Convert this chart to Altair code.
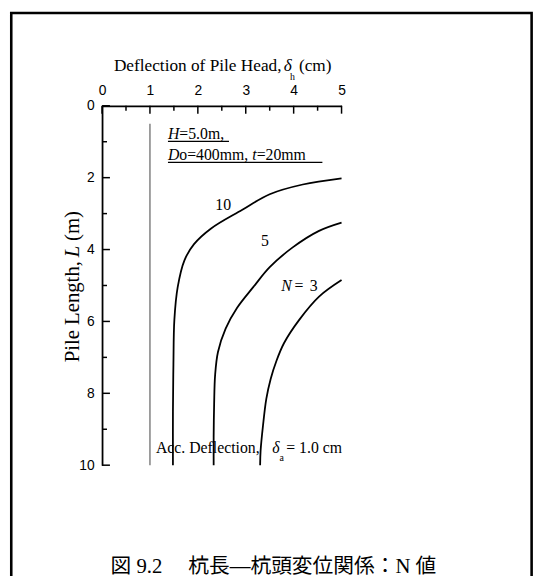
import altair as alt
import pandas as pd

# ---------------- data ----------------
# Pile length L (m) vs pile-head deflection (cm) for N = 10, 5, 3
N10_DEFL = [5.00, 4.19, 3.50, 2.92, 2.27, 1.92, 1.72, 1.58, 1.51, 1.49, 1.48, 1.48]
N10_LEN = [2.02, 2.19, 2.46, 2.90, 3.42, 3.85, 4.30, 5.04, 5.95, 7.20, 8.50, 10.0]
N5_DEFL = [5.00, 4.53, 3.98, 3.50, 3.16, 2.82, 2.58, 2.42, 2.36, 2.34, 2.33, 2.33]
N5_LEN = [3.25, 3.48, 3.94, 4.49, 5.04, 5.62, 6.20, 6.85, 7.50, 8.30, 9.20, 10.0]
N3_DEFL = [5.00, 4.53, 4.12, 3.80, 3.64, 3.52, 3.43, 3.36, 3.31, 3.30]
N3_LEN = [4.85, 5.31, 5.95, 6.60, 7.10, 7.60, 8.15, 8.90, 9.60, 10.0]
N_VALUES = [10, 5, 3]

ACC_DEFL = [1.0]          # allowable deflection line (cm)
ACC_FROM = [0.5]
ACC_TO = [10.0]

X_TICKS = [0, 1, 2, 3, 4, 5]
X_MINOR = [0.5, 1.5, 2.5, 3.5, 4.5]
Y_TICKS = [0, 2, 4, 6, 8, 10]
Y_MINOR = [1, 3, 5, 7, 9]

CAPTION = "図 9.2　 杭長―杭頭変位関係：N 値"

# ---------------- chart ----------------
SERIF = "Liberation Serif"
SANS = "Liberation Sans"
W, H = 242.7, 364.2

xs = alt.Scale(domain=[0, 5], nice=False, zero=False)
ys = alt.Scale(domain=[0, 10], reverse=True, nice=False, zero=False)

rows = []
for n, dx_, ly_ in zip(N_VALUES, [N10_DEFL, N5_DEFL, N3_DEFL], [N10_LEN, N5_LEN, N3_LEN]):
    for i, (a, b) in enumerate(zip(dx_, ly_)):
        rows.append({"N": n, "i": i, "d": a, "L": b})
curve_df = pd.DataFrame(rows)

x_axis = alt.Axis(orient="top", values=X_TICKS, ticks=False, tickSize=0, grid=False,
                  domainColor="black", domainWidth=1.8, labelFont=SANS, labelFontSize=14,
                  labelColor="black", labelPadding=8, labelFlush=False, labelOverlap=False,
                  title=None, format="d")
y_axis = alt.Axis(orient="left", values=Y_TICKS, ticks=False, tickSize=0, grid=False,
                  domainColor="black", domainWidth=1.8, labelFont=SANS, labelFontSize=14,
                  labelColor="black", labelPadding=8, labelFlush=False, labelOverlap=False,
                  title=None, format="d")


def X(field, **kw):
    return alt.X(field, scale=xs, axis=x_axis, **kw)


def Y(field, **kw):
    return alt.Y(field, scale=ys, axis=y_axis, **kw)


curves = alt.Chart(curve_df).mark_line(color="black", strokeWidth=1.8,
                                       interpolate="catmull-rom").encode(
    x=X("d:Q"), y=Y("L:Q"), detail="N:N", order=alt.Order("i:Q"))


def xtick(vals, length):
    return alt.Chart(pd.DataFrame({"d": vals})).mark_rule(color="black", strokeWidth=1.5).encode(
        x=X("d:Q"), y=alt.value(0), y2=alt.value(length))


def ytick(vals, length):
    return alt.Chart(pd.DataFrame({"L": vals})).mark_rule(color="black", strokeWidth=1.5).encode(
        y=Y("L:Q"), x=alt.value(0), x2=alt.value(length))


acc_line = alt.Chart(pd.DataFrame({"d": ACC_DEFL, "L": ACC_FROM, "b": ACC_TO})).mark_rule(
    color="#808080", strokeWidth=1.5).encode(x=X("d:Q"), y=Y("L:Q"), y2="b:Q")


def dtext(t, x, y, size=16, italic=False, align="left", baseline="alphabetic", dx=0):
    kw = dict(font=SERIF, fontSize=size, color="black", align=align, baseline=baseline, dx=dx)
    if italic:
        kw["fontStyle"] = "italic"
    return alt.Chart(pd.DataFrame({"t": [t], "d": [x], "L": [y]})).mark_text(**kw).encode(
        x=X("d:Q"), y=Y("L:Q"), text="t:N")


def ptext(t, px, py, size=16, italic=False, align="left", baseline="alphabetic", angle=0, font=SERIF):
    kw = dict(font=font, fontSize=size, color="black", align=align, baseline=baseline)
    if italic:
        kw["fontStyle"] = "italic"
    if angle:
        kw["angle"] = angle
    return alt.Chart(pd.DataFrame({"t": [t]})).mark_text(**kw).encode(
        x=alt.value(px), y=alt.value(py), text="t:N")


def hline(x1, x2, y):
    return alt.Chart(pd.DataFrame({"d": [x1], "b": [x2], "L": [y]})).mark_rule(
        color="black", strokeWidth=1.2).encode(x=X("d:Q"), x2="b:Q", y=Y("L:Q"))


border = alt.Chart(pd.DataFrame({"k": [0]})).mark_rect(
    fill="white", fillOpacity=0, stroke="black", strokeWidth=2.6).encode(
    x=alt.value(-92), x2=alt.value(435.3), y=alt.value(-94), y2=alt.value(520))

layers = [
    border,
    acc_line,
    curves,
    xtick(X_TICKS, 8), xtick(X_MINOR, 5),
    ytick(Y_TICKS, 8), ytick(Y_MINOR, 5),
    # parameters box
    dtext("H", 1.376, 0.917, italic=True),
    dtext("=5.0m,", 1.376, 0.917, dx=11.5),
    hline(1.376, 2.65, 0.989),
    dtext("D", 1.376, 1.50, italic=True),
    dtext("o=400mm,", 1.376, 1.50, dx=11.5),
    dtext("t", 1.376, 1.50, italic=True, dx=85.4),
    dtext("=20mm", 1.376, 1.50, dx=89.9),
    hline(1.376, 4.60, 1.577),
    # curve labels
    dtext("10", 2.53, 2.77, baseline="middle", align="center"),
    dtext("5", 3.40, 3.76, baseline="middle", align="center"),
    dtext("N", 3.85, 5.02, italic=True, baseline="middle", align="center"),
    dtext("=", 4.11, 5.02, baseline="middle", align="center"),
    dtext("3", 4.42, 5.02, baseline="middle", align="center"),
    # acc deflection label
    dtext("Acc. Deflection,", 3.29, 9.66, align="right"),
    dtext("δ", 3.63, 9.66, italic=True, align="center"),
    dtext("a", 3.75, 9.87, size=10, align="center"),
    dtext("= 1.0 cm", 3.846, 9.66),
    # x title
    ptext("Deflection of Pile Head,", 12, -35.5, size=17.5),
    ptext("δ", 184, -35.5, size=17.5, italic=True),
    ptext("h", 193, -26.5, size=10, align="center"),
    ptext("(cm)", 199.5, -35.5, size=17.5),
    # y title (rotated)
    ptext("Pile Length,", -23.3, 260, size=21, angle=270, align="left"),
    ptext("L", -23.3, 153.5, size=21, angle=270, align="left", italic=True),
    ptext("(m)", -23.3, 137, size=21, angle=270, align="left"),
    # caption
    ptext(CAPTION, 173.7, 467.5, size=21, align="center", baseline="middle",
          font="Liberation Serif, Noto Sans CJK JP"),
]

chart = alt.layer(*layers).properties(
    width=W, height=H,
    padding={"left": 95.3, "top": 95.3, "right": 532 - 95.3 - W, "bottom": 568 - 95.3 - H},
    autosize=alt.AutoSizeParams(type="none"),
    background="white",
).configure_view(stroke=None)

chart.save("out.html", embed_options={"renderer": "svg", "actions": False})
